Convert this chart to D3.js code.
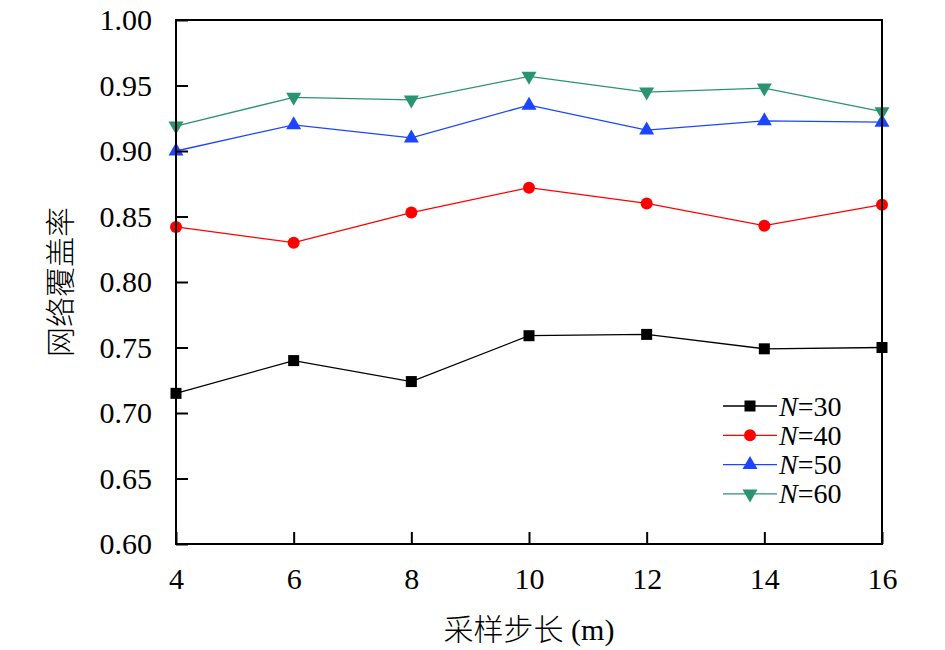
<!DOCTYPE html>
<html>
<head>
<meta charset="utf-8">
<script src="https://cdn.jsdelivr.net/npm/d3@7"></script>
<style>
  body { margin: 0; background: #fff; }
</style>
</head>
<body>
<svg id="chart" width="945" height="650"></svg>
<script>
// sampling step (m)
const steps = [4, 6, 8, 10, 12, 14, 16];
const cover30 = [0.715, 0.740, 0.724, 0.759, 0.760, 0.749, 0.750];
const cover40 = [0.842, 0.830, 0.853, 0.872, 0.860, 0.843, 0.859];
const cover50 = [0.900, 0.920, 0.910, 0.935, 0.916, 0.923, 0.922];
const cover60 = [0.919, 0.941, 0.939, 0.957, 0.945, 0.948, 0.930];
const seriesNames = ['30', '40', '50', '60'];
const xTicks = [4, 6, 8, 10, 12, 14, 16];
const yTicks = [0.60, 0.65, 0.70, 0.75, 0.80, 0.85, 0.90, 0.95, 1.00];

const SERIF = '"Liberation Serif", "Times New Roman", serif';
const CJK = '"Noto Sans CJK SC", sans-serif';

const svg = d3.select('#chart');
const m = { left: 176, right: 882, top: 20, bottom: 544 };

const x = d3.scaleLinear().domain([4, 16]).range([m.left, m.right]);
const y = d3.scaleLinear().domain([0.6, 1.0]).range([m.bottom, m.top]);

const series = [
  { name: seriesNames[0], vals: cover30, color: '#000000', shape: 'square' },
  { name: seriesNames[1], vals: cover40, color: '#ff0000', shape: 'circle' },
  { name: seriesNames[2], vals: cover50, color: '#1c45ff', shape: 'up' },
  { name: seriesNames[3], vals: cover60, color: '#2a9472', shape: 'down' },
];

// marker drawing
function marker(g, shape, color) {
  if (shape === 'square') {
    g.append('rect').attr('x', -5.5).attr('y', -5.5).attr('width', 11).attr('height', 11).attr('fill', color);
  } else if (shape === 'circle') {
    g.append('circle').attr('r', 6).attr('fill', color);
  } else if (shape === 'up') {
    g.append('path').attr('d', 'M0,-8.5L7.5,4.5L-7.5,4.5Z').attr('fill', color);
  } else {
    g.append('path').attr('d', 'M0,8.5L7.5,-4.5L-7.5,-4.5Z').attr('fill', color);
  }
}

const line = d3.line().x((d, i) => x(steps[i])).y(d => y(d));

series.forEach(s => {
  svg.append('path')
    .attr('d', line(s.vals))
    .attr('fill', 'none')
    .attr('stroke', s.color)
    .attr('stroke-width', 1.3);
  s.vals.forEach((v, i) => {
    const g = svg.append('g').attr('transform', `translate(${x(steps[i])},${y(v)})`);
    marker(g, s.shape, s.color);
  });
});

// axes
const xAxis = d3.axisBottom(x).tickValues(xTicks).tickSizeInner(-12).tickSizeOuter(0).tickPadding(24);
const yAxis = d3.axisLeft(y).tickValues(yTicks).tickSizeInner(-12).tickSizeOuter(0).tickPadding(24)
  .tickFormat(d3.format('.2f'));

const gx = svg.append('g').attr('transform', `translate(0,${m.bottom})`).call(xAxis);
const gy = svg.append('g').attr('transform', `translate(${m.left},0)`).call(yAxis);
[gx, gy].forEach(g => {
  g.select('.domain').remove();
  g.selectAll('.tick line').attr('stroke', '#000').attr('stroke-width', 2);
  g.selectAll('.tick text')
    .style('font-family', SERIF)
    .style('font-size', '30px')
    .attr('fill', '#000');
});
gx.selectAll('.tick text').attr('dy', '0.71em');

// frame
svg.append('rect')
  .attr('x', m.left).attr('y', m.top)
  .attr('width', m.right - m.left).attr('height', m.bottom - m.top)
  .attr('fill', 'none').attr('stroke', '#000').attr('stroke-width', 2);

// titles
const xt = svg.append('text')
  .attr('x', (m.left + m.right) / 2).attr('y', 640)
  .attr('text-anchor', 'middle')
  .style('font-family', SERIF)
  .style('font-size', '30px');
xt.append('tspan').style('font-family', CJK).style('font-weight', 300).text('采样步长');
xt.append('tspan').style('font-family', SERIF).text(' (m)');

svg.append('text')
  .attr('transform', `translate(71,${(m.top + m.bottom) / 2}) rotate(-90)`)
  .attr('text-anchor', 'middle')
  .style('font-family', CJK)
  .style('font-weight', 300)
  .style('font-size', '30px')
  .text('网络覆盖率');

// legend
const leg = svg.append('g').attr('transform', 'translate(723,406)');
series.forEach((s, i) => {
  const row = leg.append('g').attr('transform', `translate(0,${i * 29.3})`);
  row.append('line').attr('x1', 0).attr('x2', 54).attr('stroke', s.color).attr('stroke-width', 1.3);
  const mg = row.append('g').attr('transform', 'translate(27,0)');
  marker(mg, s.shape, s.color);
  const t = row.append('text').attr('x', 56).attr('y', 9.5)
    .style('font-family', SERIF)
    .style('font-size', '28px');
  t.append('tspan').style('font-style', 'italic').text('N');
  t.append('tspan').text('=' + s.name);
});
</script>
</body>
</html>
